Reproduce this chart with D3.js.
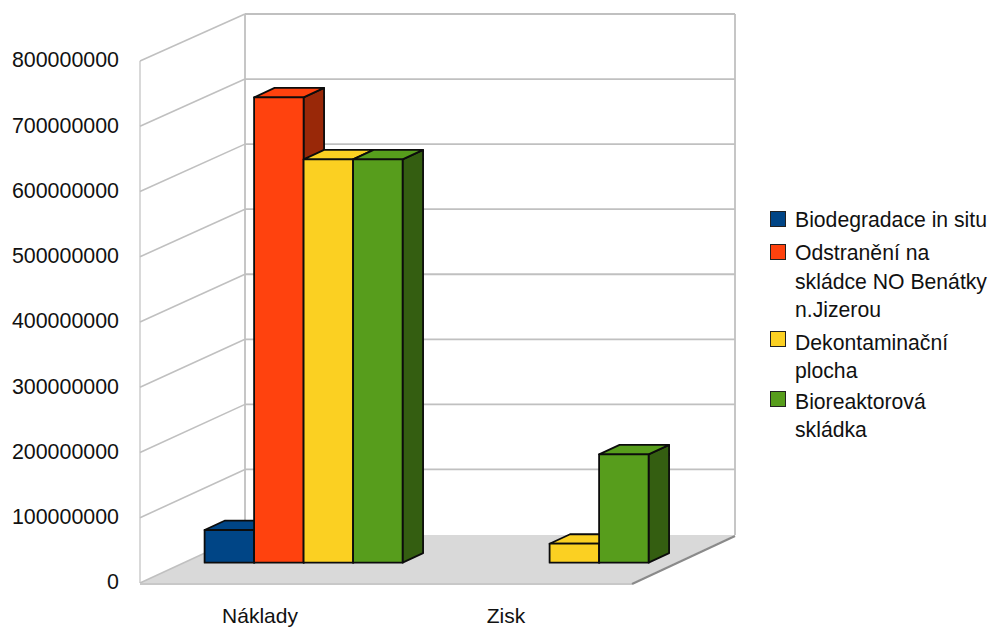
<!DOCTYPE html>
<html>
<head>
<meta charset="utf-8">
<script src="https://cdn.jsdelivr.net/npm/d3@7/dist/d3.min.js"></script>
<style>
  html, body { margin: 0; padding: 0; background: #fff; }
  text { font-family: "Liberation Sans", Arial, sans-serif; fill: #111; }
</style>
</head>
<body>
<svg id="chart" width="992" height="628"></svg>
<script>
// Chart content
const categories = ["Náklady", "Zisk"];
const seriesNames = ["Biodegradace in situ", "Odstranění na skládce NO Benátky n.Jizerou", "Dekontaminační plocha", "Bioreaktorová skládka"];
const nakladyValues = [50000000, 713000000, 618000000, 618000000];
const ziskValues = [0, 0, 29000000, 166000000];
const yTicks = [0, 100000000, 200000000, 300000000, 400000000, 500000000, 600000000, 700000000, 800000000];
const legendLines = [["Biodegradace in situ"], ["Odstranění na", "skládce NO Benátky", "n.Jizerou"], ["Dekontaminační", "plocha"], ["Bioreaktorová", "skládka"]];

// Colours
const frontColors = ["#004586", "#ff420e", "#fbd022", "#579d1c"];
const sideColors = ["#002a50", "#992808", "#97801a", "#345e11"];

// Oblique projection of the box: depth 0 is the front plane, depth 1 the back wall
const depthX = 105, depthY = 48.5;
const project = (x, y, d) => [x + d * depthX, y - d * depthY];
const barFrontDepth = 0.42, barBackDepth = 0.615;

const svg = d3.select("#chart");

const yFront = d3.scaleLinear().domain([0, 800000000]).range([583, 61]);
const yBack = d3.scaleLinear().domain([0, 800000000]).range([534.5, 14]);
const x0 = d3.scaleBand().domain(categories).range([140, 632]);
const x1 = d3.scaleBand().domain(d3.range(seriesNames.length)).range([20.5, 218.5]);

const wallColor = "#c0c0c0";
const walls = svg.append("g").attr("fill", "none").attr("stroke", wallColor);

// Floor
svg.insert("polygon", "g")
  .attr("points", [[140, 583], [632, 583], [735, 535], [245, 535]].join(" "))
  .attr("fill", "#d9d9d9");

// Back wall and side wall grid
walls.selectAll("line.back").data(yTicks).join("line")
  .attr("class", "back")
  .attr("x1", 245).attr("x2", 735)
  .attr("y1", d => yBack(d)).attr("y2", d => yBack(d))
  .attr("stroke-width", d => d === 0 ? 0 : 1.8);
walls.selectAll("line.side").data(yTicks).join("line")
  .attr("class", "side")
  .attr("x1", 140).attr("x2", 245)
  .attr("y1", d => yFront(d)).attr("y2", d => yBack(d))
  .attr("stroke-width", 1.6);
[[140, 61, 140, 583], [245, 14, 245, 535], [735, 14, 735, 535]].forEach(([a, b, c, e]) => {
  walls.append("line").attr("x1", a).attr("y1", b).attr("x2", c).attr("y2", e)
    .attr("stroke-width", a === 140 ? 1.2 : 1.8);
});
// Floor edges
svg.append("line").attr("x1", 140).attr("x2", 632).attr("y1", 584).attr("y2", 584)
  .attr("stroke", "#c8c8c8").attr("stroke-width", 2);
svg.append("line").attr("x1", 632).attr("y1", 584).attr("x2", 735).attr("y2", 536)
  .attr("stroke", "#8a8a8a").attr("stroke-width", 2.4);

// Bars, left to right so that each front face overlaps its left neighbour's side
const rows = [nakladyValues, ziskValues];
const bars = categories.flatMap((c, ci) =>
  rows[ci].map((v, si) => ({ c, si, v })).filter(d => d.v > 0));
const poly = pts => pts.map(p => p.join(",")).join(" ");
const barGroup = svg.append("g").attr("stroke", "#0c0c0c").attr("stroke-width", 1.8)
  .attr("stroke-linejoin", "round");

bars.forEach(b => {
  const xl = x0(b.c) + x1(b.si);
  const xr = xl + x1.bandwidth();
  const yt = yFront(b.v);
  const yb = yFront(0);
  const f = barFrontDepth, k = barBackDepth;
  const g = barGroup.append("g");
  g.append("polygon").attr("fill", sideColors[b.si])
    .attr("points", poly([project(xr, yt, f), project(xr, yt, k), project(xr, yb, k), project(xr, yb, f)]));
  g.append("polygon").attr("fill", frontColors[b.si])
    .attr("points", poly([project(xl, yt, f), project(xl, yt, k), project(xr, yt, k), project(xr, yt, f)]));
  g.append("polygon").attr("fill", frontColors[b.si])
    .attr("points", poly([project(xl, yt, f), project(xr, yt, f), project(xr, yb, f), project(xl, yb, f)]));
});

// Value axis labels
const yAxis = svg.append("g").attr("transform", "translate(119,-1)")
  .call(d3.axisLeft(yFront).tickValues(yTicks).tickFormat(d3.format("d")).tickSize(0).tickPadding(0));
yAxis.select(".domain").remove();
yAxis.selectAll("text").style("font-family", '"Liberation Sans", Arial, sans-serif')
  .style("font-size", "21.4px").style("fill", "#111");

// Category labels
const xAxis = svg.append("g").attr("transform", "translate(-3,608)")
  .call(d3.axisBottom(x0).tickSize(0).tickPadding(0));
xAxis.select(".domain").remove();
xAxis.selectAll("text").style("font-family", '"Liberation Sans", Arial, sans-serif')
  .style("font-size", "21px").style("fill", "#111");

// Legend
const swatchTops = [211, 244, 331, 391];
const legendBaselines = [[227], [260, 289, 317], [350, 378], [409, 437]];
const legend = svg.append("g");
seriesNames.forEach((name, i) => {
  legend.append("rect").attr("x", 770.5).attr("y", swatchTops[i] + 0.5)
    .attr("width", 15).attr("height", 15)
    .attr("fill", frontColors[i]).attr("stroke", "#222").attr("stroke-width", 1);
  legendLines[i].forEach((line, j) => {
    legend.append("text").attr("x", 795).attr("y", legendBaselines[i][j])
      .attr("font-size", 21.2).text(line);
  });
});
</script>
</body>
</html>
